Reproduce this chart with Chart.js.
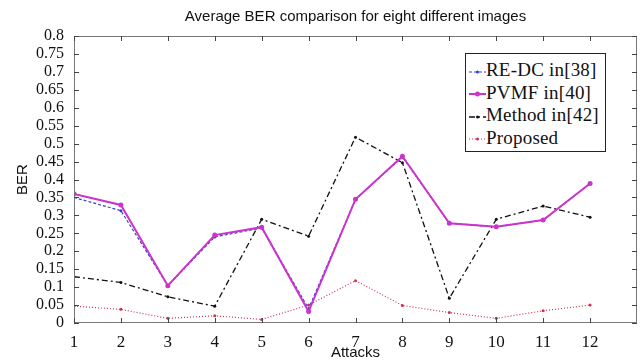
<!DOCTYPE html>
<html>
<head>
<meta charset="utf-8">
<script src="https://cdn.jsdelivr.net/npm/chart.js@4/dist/chart.umd.min.js"></script>
<style>
  html, body { margin: 0; padding: 0; background: #fff; }
  #wrap { position: relative; width: 644px; height: 362px; }
  #legend {
    position: absolute; left: 465px; top: 53px; width: 141px; height: 99px;
    border: 1px solid #222; background: #fff; box-sizing: border-box;
    font-family: "Liberation Serif", serif; font-size: 19px; color: #111;
    padding: 5px 0 0 3px;
  }
  #legend div { height: 22.5px; line-height: 22px; white-space: nowrap; letter-spacing: 0.2px; }
  #legend svg { vertical-align: middle; margin-right: 0px; }
</style>
</head>
<body>
<div id="wrap">
  <canvas id="berChart" width="644" height="362"></canvas>
  <div id="legend"></div>
</div>
<script>
// values
const attacks = [1, 2, 3, 4, 5, 6, 7, 8, 9, 10, 11, 12];
const redc    = [0.350, 0.313, 0.104, 0.240, 0.265, 0.040, 0.345, 0.463, 0.278, 0.268, 0.287, 0.389];
const pvmf    = [0.360, 0.329, 0.104, 0.245, 0.267, 0.032, 0.345, 0.465, 0.278, 0.268, 0.287, 0.389];
const method  = [0.129, 0.113, 0.073, 0.047, 0.289, 0.242, 0.518, 0.447, 0.069, 0.289, 0.326, 0.295];
const proposed = [0.047, 0.038, 0.013, 0.020, 0.010, 0.050, 0.118, 0.049, 0.029, 0.013, 0.034, 0.050];
const yTicks = [0, 0.05, 0.1, 0.15, 0.2, 0.25, 0.3, 0.35, 0.4, 0.45, 0.5, 0.55, 0.6, 0.65, 0.7, 0.75, 0.8];

const series = [
  { label: 'RE-DC in[38]', data: redc, color: '#3340c8', width: 1.2, dash: [3, 2], radius: 1.5, order: 2 },
  { label: 'PVMF in[40]', data: pvmf, color: '#cc33cc', width: 2, dash: [], radius: 2.5, order: 1 },
  { label: 'Method in[42]', data: method, color: '#111111', width: 1.3, dash: [6, 3, 2, 3], radius: 1.5, order: 3 },
  { label: 'Proposed', data: proposed, color: '#cc3350', width: 1.2, dash: [1, 2], radius: 1.5, order: 4 }
];

// inner ticks + box frame, matlab style
const frameTicks = {
  id: 'frameTicks',
  afterDraw(chart) {
    const { ctx, chartArea: a, scales } = chart;
    ctx.save();
    ctx.strokeStyle = '#777';
    ctx.lineWidth = 1;
    ctx.strokeRect(a.left + 0.5, a.top + 0.5, a.right - a.left - 1, a.bottom - a.top - 1);
    ctx.strokeStyle = '#444';
    ctx.beginPath();
    attacks.forEach(v => {
      const x = Math.round(scales.x.getPixelForValue(v)) + 0.5;
      ctx.moveTo(x, a.bottom); ctx.lineTo(x, a.bottom - 5);
      ctx.moveTo(x, a.top); ctx.lineTo(x, a.top + 5);
    });
    yTicks.forEach(v => {
      const y = Math.round(scales.y.getPixelForValue(v)) + 0.5;
      ctx.moveTo(a.left, y); ctx.lineTo(a.left + 5, y);
      ctx.moveTo(a.right, y); ctx.lineTo(a.right - 5, y);
    });
    ctx.stroke();
    ctx.restore();
  }
};

const ctx = document.getElementById('berChart').getContext('2d');
new Chart(ctx, {
  type: 'line',
  data: {
    datasets: series.map(s => ({
      label: s.label,
      data: s.data.map((v, i) => ({ x: attacks[i], y: v })),
      borderColor: s.color,
      backgroundColor: s.color,
      borderWidth: s.width,
      borderDash: s.dash,
      pointRadius: s.radius,
      pointBorderWidth: 0,
      tension: 0,
      fill: false,
      order: s.order
    }))
  },
  options: {
    responsive: false,
    animation: false,
    layout: { padding: { left: 0, right: 7, top: 0, bottom: 0 } },
    plugins: {
      legend: { display: false },
      tooltip: { enabled: false },
      title: {
        display: true,
        fullSize: false,
        text: 'Average BER comparison for eight different images',
        color: '#111',
        font: { family: 'Liberation Sans', size: 15, weight: 'normal' },
        padding: { top: 8, bottom: 10 }
      }
    },
    scales: {
      x: {
        type: 'linear',
        min: 1,
        max: 13,
        grid: { display: false },
        border: { display: false },
        afterFit: s => { s.height = 39; },
        afterBuildTicks: s => { s.ticks = attacks.map(v => ({ value: v })); },
        ticks: {
          padding: 1,
          color: '#111',
          font: { family: 'Liberation Serif', size: 17 },
          maxRotation: 0,
          autoSkip: false
        },
        title: {
          display: true,
          text: 'Attacks',
          color: '#111',
          font: { family: 'Liberation Sans', size: 15 },
          padding: { top: 0, bottom: 0 }
        }
      },
      y: {
        min: 0,
        max: 0.8,
        grid: { display: false },
        border: { display: false },
        afterFit: s => { s.width = 74; },
        afterBuildTicks: s => { s.ticks = yTicks.map(v => ({ value: v })); },
        ticks: {
          padding: 2,
          color: '#111',
          autoSkip: false,
          font: { family: 'Liberation Serif', size: 16 },
          callback: v => String(+v.toFixed(2))
        },
        title: {
          display: true,
          text: 'BER',
          color: '#111',
          font: { family: 'Liberation Sans', size: 15 },
          padding: { top: 14, bottom: 0 }
        }
      }
    }
  },
  plugins: [frameTicks]
});

// legend box drawn as html, same styles as the datasets
const legend = document.getElementById('legend');
series.forEach(s => {
  const row = document.createElement('div');
  const dash = s.dash.length ? s.dash.join(',') : 'none';
  row.innerHTML =
    '<svg width="17" height="8"><line x1="0" y1="4" x2="17" y2="4" stroke="' + s.color +
    '" stroke-width="' + s.width + '" stroke-dasharray="' + dash + '"/>' +
    '<circle cx="8.5" cy="4" r="' + s.radius + '" fill="' + s.color + '"/></svg>' + s.label;
  legend.appendChild(row);
});
</script>
</body>
</html>
